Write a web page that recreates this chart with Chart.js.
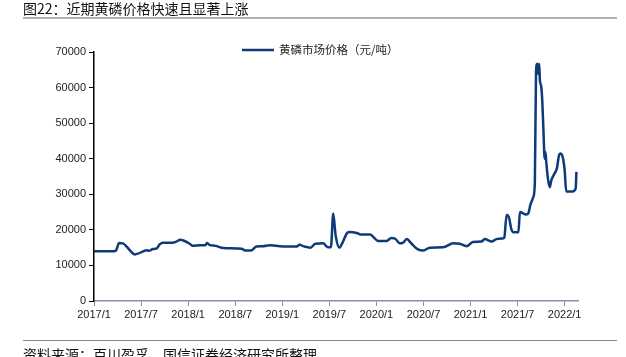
<!DOCTYPE html>
<html>
<head>
<meta charset="utf-8">
<script src="https://cdn.jsdelivr.net/npm/chart.js@4/dist/chart.umd.min.js"></script>
<style>
  html, body { margin: 0; padding: 0; background: #fff; }
  body { width: 626px; height: 357px; position: relative; overflow: hidden; font-family: "Noto Sans CJK SC", sans-serif; }
  #title { position: absolute; left: 23px; top: 0px; font-size: 14px; line-height: 17px; color: #111; white-space: nowrap; }
  #topline { position: absolute; left: 23px; top: 17px; width: 594px; height: 2px; background: #b0b0b0; }
  #botline { position: absolute; left: 23px; top: 340px; width: 594px; height: 1px; background: #888; }
  #source { position: absolute; left: 23px; top: 346px; font-size: 14px; line-height: 17px; color: #111; white-space: nowrap; }
  #wrap { position: absolute; left: 0; top: 0; width: 626px; height: 357px; }
</style>
</head>
<body>
<div id="wrap"><canvas id="c" width="626" height="357"></canvas></div>
<div id="title">图22：近期黄磷价格快速且显著上涨</div>
<div id="topline"></div>
<div id="botline"></div>
<div id="source">资料来源：百川盈孚、国信证券经济研究所整理</div>
<script>
// months elapsed since 2017/1 (decimal)
const monthsSince2017 = [
  0, 2.5, 2.8, 3.2, 3.7, 4.2, 4.8, 5.2, 5.6, 6.2, 6.7, 7.0, 7.5, 8.0, 8.4, 8.8, 10.0, 10.5, 11.0, 11.4,
  12.2, 12.6, 13.5, 14.2, 14.4, 14.7, 15.5, 16.5, 18.8, 19.3, 20.0, 20.7, 21.5, 22.4, 23.2, 24.5,
  25.8, 26.2, 26.8, 27.6, 28.2, 29.2, 29.8, 30.2, 30.5, 30.8, 31.3, 31.7, 32.3, 32.6, 33.5, 34.0,
  35.2, 35.7, 36.2, 37.3, 37.9, 38.4, 39.0, 39.4, 39.9, 40.4, 41.3, 42.0, 42.8, 44.5, 45.8, 46.6,
  47.5, 48.3, 49.4, 49.8, 50.7, 51.3, 52.1, 52.3, 52.6, 52.9, 53.2, 53.5, 54.1, 54.3, 55.1, 55.4,
  55.6, 56.0, 56.2, 56.35, 56.5, 56.65, 56.75, 56.85, 57.0, 57.15, 57.3, 57.45, 57.55, 57.65, 57.9,
  58.1, 58.3, 58.7, 59.0, 59.3, 59.5, 59.8, 60.0, 60.2, 61.0, 61.4, 61.5
];
// 黄磷市场价格（元/吨）
const prices = [
  14000, 14000, 14200, 16300, 16200, 15200, 13700, 13100, 13300, 13900, 14300, 14100, 14600, 14800, 16000, 16400, 16400, 16700, 17200, 17000,
  16100, 15500, 15700, 15700, 16300, 15800, 15500, 14900, 14700, 14200, 14200, 15300, 15400, 15700, 15500, 15300,
  15300, 15800, 15300, 15000, 16100, 16200, 15100, 15100, 24600, 18500, 15000, 16500, 19200, 19400, 19100, 18700,
  18700, 17800, 16900, 16900, 17700, 17500, 16200, 16400, 17400, 16300, 14500, 14200, 15000, 15100, 16200, 16100,
  15400, 16600, 16700, 17400, 16700, 17400, 17600, 17800, 24200, 23500, 20200, 19300, 19300, 25000, 24300, 24800,
  26800, 29200, 33400, 64600, 66700, 63800, 66700, 61800, 60500, 56100, 47600, 40000, 41900, 39100, 33900,
  32000, 33900, 35800, 37200, 41100, 41500, 40000, 36700, 30800, 30800, 31600, 36300
];
const startYear = 2017;
const yTicks = [0, 10000, 20000, 30000, 40000, 50000, 60000, 70000];
const seriesName = '黄磷市场价格（元/吨）';

const lineColor = '#0c3b78';

const legendPlugin = {
  id: 'customLegend',
  afterDraw(chart) {
    const ctx = chart.ctx;
    ctx.save();
    ctx.strokeStyle = lineColor;
    ctx.lineWidth = 2.5;
    ctx.beginPath();
    ctx.moveTo(242, 50);
    ctx.lineTo(274, 50);
    ctx.stroke();
    ctx.fillStyle = '#222';
    ctx.font = '11.5px "Noto Sans CJK SC"';
    ctx.textBaseline = 'middle';
    ctx.fillText(seriesName, 279, 50);
    ctx.restore();
  }
};

new Chart(document.getElementById('c'), {
  type: 'line',
  data: {
    datasets: [{
      label: seriesName,
      data: monthsSince2017.map((m, i) => ({ x: m, y: prices[i] })),
      borderColor: lineColor,
      borderWidth: 2.5,
      pointRadius: 0,
      cubicInterpolationMode: 'monotone',
      fill: false
    }]
  },
  options: {
    responsive: false,
    animation: false,
    layout: { padding: { left: 0, right: 48, top: 52, bottom: 31 } },
    plugins: { legend: { display: false }, tooltip: { enabled: false } },
    scales: {
      x: {
        type: 'linear',
        min: 0,
        max: 61.7,
        afterFit(s) { s.height = 25; },
        border: { display: true, color: '#8593a8', width: 1.5 },
        grid: { display: true, drawOnChartArea: false, drawTicks: true, tickLength: 5, color: '#8593a8', lineWidth: 1 },
        ticks: {
          stepSize: 6,
          includeBounds: false,
          autoSkip: false,
          maxRotation: 0,
          padding: 2,
          color: '#222',
          font: { family: '"Liberation Sans", Arial', size: 11 },
          callback: (v) => {
            const y = startYear + Math.floor(v / 12);
            const m = Math.round(v % 12) + 1;
            return y + '/' + m;
          }
        }
      },
      y: {
        min: 0,
        max: 70000,
        afterFit(s) { s.width = 94; },
        afterBuildTicks(s) { s.ticks = yTicks.map(v => ({ value: v })); },
        border: { display: true, color: '#000', width: 1.5 },
        grid: { display: true, drawOnChartArea: false, drawTicks: true, tickLength: 5, color: '#000', lineWidth: 1 },
        ticks: {
          padding: 3,
          color: '#222',
          font: { family: '"Liberation Sans", Arial', size: 11 },
          callback: (v) => String(v)
        }
      }
    }
  },
  plugins: [legendPlugin]
});
</script>
</body>
</html>
